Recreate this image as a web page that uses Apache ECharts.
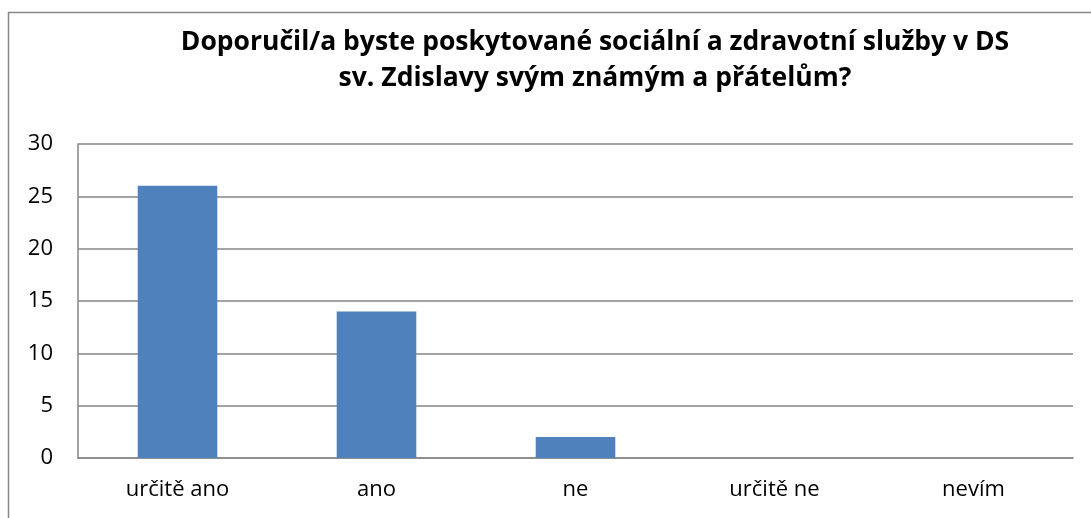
<!DOCTYPE html>
<html>
<head>
<meta charset="utf-8">
<script src="https://cdn.jsdelivr.net/npm/echarts@6/dist/echarts.min.js"></script>
<style>
html,body{margin:0;padding:0;background:#fff;}
#c{width:1091px;height:518px;}
</style>
</head>
<body>
<div id="c"></div>
<script>
const titleLines = ["Doporučil/a byste poskytované sociální a zdravotní služby v DS", "sv. Zdislavy svým známým a přátelům?"];
const categories = ["určitě ano", "ano", "ne", "určitě ne", "nevím"];
const values = [26, 14, 2, 0, 0];
const yTicks = { min: 0, max: 30, interval: 5 };

const chart = echarts.init(document.getElementById('c'), null, { renderer: 'canvas' });
const FONT = '"Open Sans", Lato, sans-serif';
chart.setOption({
  animation: false,
  backgroundColor: '#ffffff',
  title: {
    text: titleLines.join('\n'),
    left: 590,
    top: 19,
    textAlign: 'center',
    textStyle: { fontFamily: FONT, fontSize: 26.5, fontWeight: 'bold', color: '#000', lineHeight: 36 }
  },
  graphic: [{
    type: 'rect',
    shape: { x: 8.5, y: 12.5, width: 1200, height: 700 },
    style: { fill: 'none', stroke: '#878787', lineWidth: 1.5 },
    silent: true
  }],
  grid: { left: 78, right: 18, top: 144, bottom: 60, containLabel: false },
  xAxis: {
    type: 'category',
    data: categories,
    axisLine: { show: true, lineStyle: { color: '#868686', width: 1.5 } },
    axisTick: { show: false },
    axisLabel: { fontFamily: FONT, fontSize: 22, color: '#000', margin: 21 }
  },
  yAxis: {
    type: 'value',
    min: yTicks.min, max: yTicks.max, interval: yTicks.interval,
    axisLine: { show: true, lineStyle: { color: '#868686', width: 1.5 } },
    axisTick: { show: false },
    splitLine: { show: true, lineStyle: { color: '#868686', width: 1.5 } },
    axisLabel: { fontFamily: FONT, fontSize: 22, color: '#000', margin: 25 }
  },
  series: [{
    type: 'bar',
    data: values,
    barWidth: '40%',
    itemStyle: { color: '#4F81BD' }
  }]
});
</script>
</body>
</html>
